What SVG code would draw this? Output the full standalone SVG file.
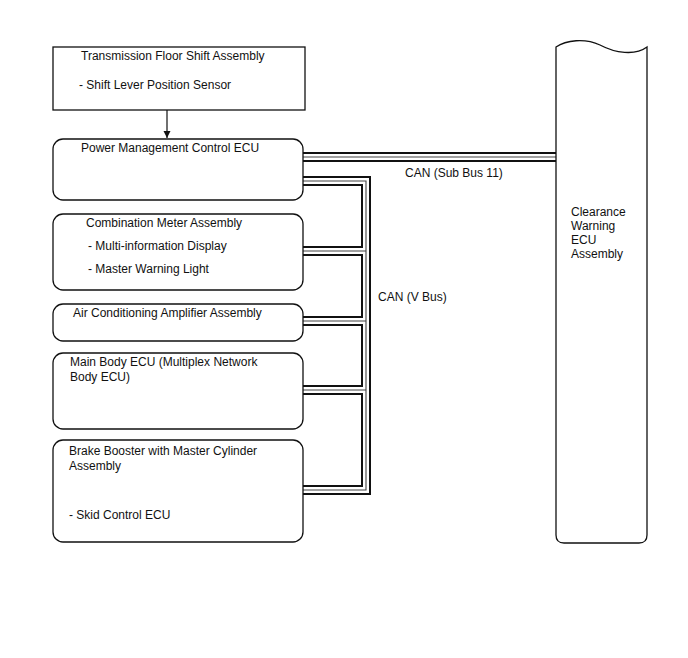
<svg xmlns="http://www.w3.org/2000/svg" width="688" height="658" viewBox="0 0 688 658">
<style>
text{font-family:"Liberation Sans",Arial,sans-serif;font-size:12px;fill:#111}
.box{fill:#fff;stroke:#111;stroke-width:1.3}
.b1{fill:none;stroke:#111;stroke-width:10}
.b2{fill:none;stroke:#fff;stroke-width:6}
.b3{fill:none;stroke:#444;stroke-width:1.1}
</style>
<defs>
<marker id="ah" viewBox="0 0 10 10" refX="10" refY="5" markerWidth="7" markerHeight="9" markerUnits="userSpaceOnUse" orient="auto">
<path d="M0,0 L10,5 L0,10 z" fill="#111"/>
</marker>
</defs>
<rect width="688" height="658" fill="#fff"/>
<g id="connectors">
<line x1="167" y1="110" x2="167" y2="138" stroke="#111" stroke-width="1.2" marker-end="url(#ah)"/>
<g class="b1">
<path d="M303,157 H556"/>
<path d="M303,181 H366 V490 H303"/>
<path d="M303,251 H366 M303,321 H366 M303,390 H366"/>
</g>
<g class="b2">
<path d="M303,157 H556"/>
<path d="M303,181 H366 V490 H303"/>
<path d="M303,251 H366 M303,321 H366 M303,390 H366"/>
</g>
<g class="b3">
<path d="M303,157 H556"/>
<path d="M303,181 H366 V490 H303"/>
<path d="M303,251 H366 M303,321 H366 M303,390 H366"/>
</g>
<text x="405" y="177">CAN (Sub Bus 11)</text>
<text x="378" y="301">CAN (V Bus)</text>
</g>
<g id="transmission">
<rect class="box" x="53" y="47" width="252" height="63"/>
<text x="81" y="60">Transmission Floor Shift Assembly</text>
<text x="79" y="89">- Shift Lever Position Sensor</text>
</g>
<g id="pmc-ecu">
<rect class="box" x="53" y="139" width="250" height="61" rx="10"/>
<text x="81" y="152">Power Management Control ECU</text>
</g>
<g id="combination-meter">
<rect class="box" x="53" y="214" width="250" height="76" rx="10"/>
<text x="86" y="227">Combination Meter Assembly</text>
<text x="88" y="250">- Multi-information Display</text>
<text x="88" y="273">- Master Warning Light</text>
</g>
<g id="ac-amplifier">
<rect class="box" x="53" y="304" width="250" height="37" rx="10"/>
<text x="73" y="317">Air Conditioning Amplifier Assembly</text>
</g>
<g id="main-body-ecu">
<rect class="box" x="53" y="353" width="250" height="76" rx="10"/>
<text x="70" y="366">Main Body ECU (Multiplex Network</text>
<text x="70" y="381">Body ECU)</text>
</g>
<g id="brake-booster">
<rect class="box" x="53" y="440" width="250" height="102" rx="10"/>
<text x="69" y="455">Brake Booster with Master Cylinder</text>
<text x="69" y="470">Assembly</text>
<text x="69" y="519">- Skid Control ECU</text>
</g>
<g id="clearance-warning-ecu">
<path class="box" d="M556,47 C566,40 585,38 600,45 C615,53 635,56 647,47 V535 Q647,543 639,543 H564 Q556,543 556,535 Z"/>
<text x="571" y="216">Clearance</text>
<text x="571" y="230">Warning</text>
<text x="571" y="244">ECU</text>
<text x="571" y="258">Assembly</text>
</g>
</svg>
